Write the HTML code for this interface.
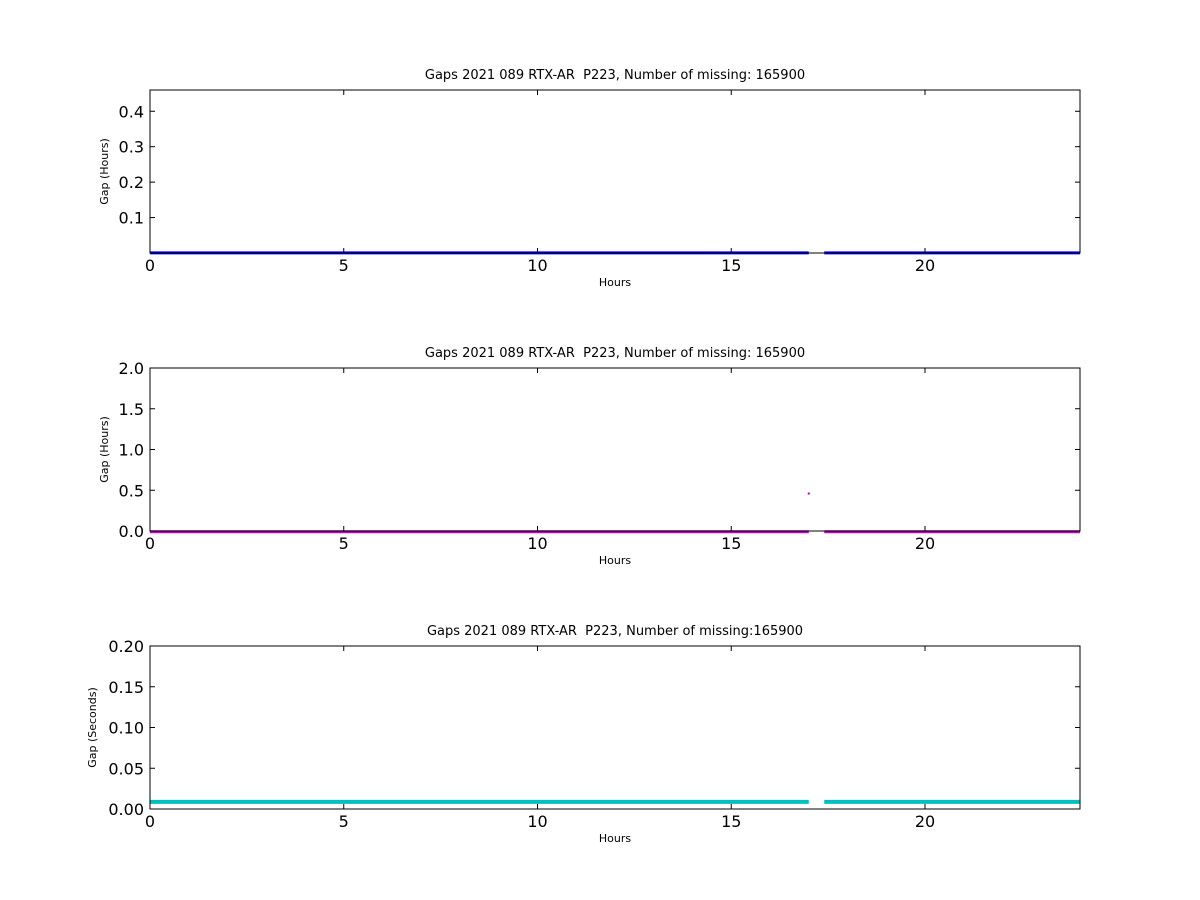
<!DOCTYPE html>
<html><head><meta charset="utf-8"><style>body{margin:0;background:#fff}svg{display:block}text{font-family:"DejaVu Sans","Liberation Sans",sans-serif}</style></head>
<body>
<svg id="c" width="1200" height="900" viewBox="0 0 1200 900"></svg>
<script>
const xTicks=[0,5,10,15,20];
const segStarts=[0,17.4];
const segEnds=[17.0,24];
const p1Value=0.003, p2Value=0.003, p3Value=0.01;
const p2PointX=[17.0], p2PointY=[0.46];
const p1Ticks=[0.1,0.2,0.3,0.4], p2Ticks=[0,0.5,1.0,1.5,2.0], p3Ticks=[0,0.05,0.10,0.15,0.20];
const p1Labels=["0.1","0.2","0.3","0.4"], p2Labels=["0.0","0.5","1.0","1.5","2.0"], p3Labels=["0.00","0.05","0.10","0.15","0.20"];
const panels=[
 {top:90,ymax:0.46,ticks:p1Ticks,labels:p1Labels,val:p1Value,color:"#0000ff",title:"Gaps 2021 089 RTX-AR \u00a0P223, Number of missing: 165900",ylab:"Gap (Hours)",name:"panel-1",yx:108},
 {top:368,ymax:2.0,ticks:p2Ticks,labels:p2Labels,val:p2Value,color:"#bf00bf",title:"Gaps 2021 089 RTX-AR \u00a0P223, Number of missing: 165900",ylab:"Gap (Hours)",name:"panel-2",pts:true,yx:108},
 {top:646,ymax:0.2,ticks:p3Ticks,labels:p3Labels,val:p3Value,color:"#00bfbf",title:"Gaps 2021 089 RTX-AR \u00a0P223, Number of missing:165900",ylab:"Gap (Seconds)",name:"panel-3",lw:4,yx:96}
];
const svg=document.getElementById('c');const NS="http://www.w3.org/2000/svg";
function mk(t,a,p){const e=document.createElementNS(NS,t);for(const k in a)e.setAttribute(k,a[k]);(p||svg).appendChild(e);return e;}
const L=150,R=1080,H=163;
panels.forEach(p=>{
 const g=mk('g',{});
 
 
 const B=p.top+H;
 const xs=v=>L+v/24*(R-L), ys=v=>B-v/p.ymax*H;
 for(let i=0;i<segStarts.length;i++){
  const l=mk('line',{x1:xs(segStarts[i]),x2:xs(segEnds[i]),y1:ys(p.val)+1,y2:ys(p.val)+1,stroke:p.color,'stroke-width':p.lw||3},g);
  
  
 }
 if(p.pts){for(let i=0;i<p2PointX.length;i++){const c=mk('rect',{x:xs(p2PointX[i])-1,y:ys(p2PointY[i])-1,width:2,height:2,fill:p.color},g);
  
  }}
 const fr=mk('rect',{x:L,y:p.top,width:R-L,height:H,fill:'none',stroke:'#000','stroke-width':1},g);
 
 
 xTicks.forEach(t=>{const x=xs(t);
  mk('line',{x1:x,x2:x,y1:B,y2:B-5,stroke:'#000'},g);mk('line',{x1:x,x2:x,y1:p.top,y2:p.top+5,stroke:'#000'},g);
  const tx=mk('text',{x:x,y:B+18,'font-size':16,'text-anchor':'middle'},g);tx.textContent=t;
  
  });
 p.ticks.forEach((t,i)=>{const y=ys(t);
  mk('line',{x1:L,x2:L+5,y1:y,y2:y,stroke:'#000'},g);mk('line',{x1:R,x2:R-5,y1:y,y2:y,stroke:'#000'},g);
  const tx=mk('text',{x:L-6,y:y+6,'font-size':16,'text-anchor':'end'},g);tx.textContent=p.labels[i];
  
  });
 const ti=mk('text',{x:(L+R)/2,y:p.top-11,'font-size':13,'text-anchor':'middle'},g);ti.textContent=p.title;
 
 
 const xl=mk('text',{x:(L+R)/2,y:B+33,'font-size':11,'text-anchor':'middle'},g);xl.textContent='Hours';
 
 
 const cy=p.top+H/2;
 const yl=mk('text',{x:p.yx,y:cy,'font-size':11,'text-anchor':'middle',transform:`rotate(-90 ${p.yx} ${cy})`},g);yl.textContent=p.ylab;
 
 
});
</script>
</body></html>
